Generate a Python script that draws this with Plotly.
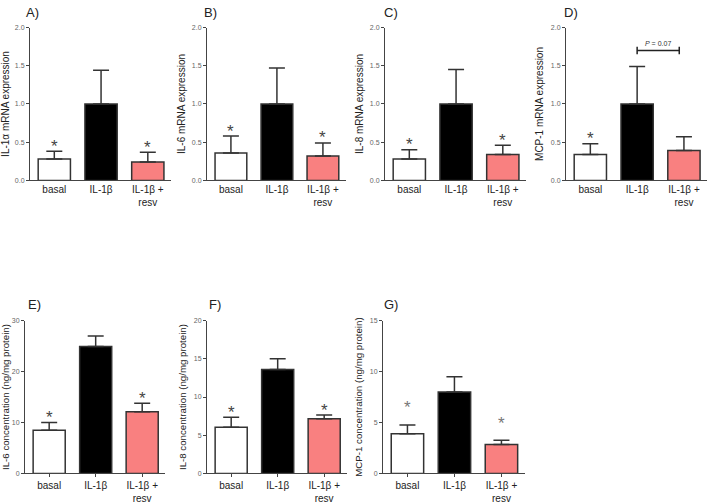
import plotly.graph_objects as go

categories = ["basal", "IL-1β", "IL-1β +<br>resv"]
panel_labels = ["A)", "B)", "C)", "D)", "E)", "F)", "G)"]
y_titles = ["IL-1α mRNA expression", "IL-6 mRNA expression", "IL-8 mRNA expression",
            "MCP-1 mRNA expression", "IL-6 concentration (ng/mg protein)",
            "IL-8 concentration (ng/mg protein)", "MCP-1 concentration (ng/mg protein)"]

a_mean = [0.28, 1.00, 0.24]; a_err = [0.10, 0.44, 0.13]; a_star = [0.38, None, 0.37]
b_mean = [0.36, 1.00, 0.32]; b_err = [0.22, 0.47, 0.17]; b_star = [0.58, None, 0.49]
c_mean = [0.28, 1.00, 0.34]; c_err = [0.12, 0.45, 0.12]; c_star = [0.40, None, 0.46]
d_mean = [0.34, 1.00, 0.39]; d_err = [0.14, 0.49, 0.18]; d_star = [0.48, None, None]
e_mean = [8.5, 24.9, 12.1]; e_err = [1.5, 2.1, 1.7]; e_star = [10.0, None, 13.8]
f_mean = [6.05, 13.6, 7.15]; f_err = [1.3, 1.4, 0.5]; f_star = [7.35, None, 7.65]
g_mean = [3.9, 8.0, 2.85]; g_err = [0.85, 1.5, 0.42]; g_star = [6.0, None, 4.45]

y_max = [2.0, 2.0, 2.0, 2.0, 30, 20, 15]
y_dtick = [0.5, 0.5, 0.5, 0.5, 10, 5, 5]
bar_colors = ["#ffffff", "#000000", "#f98080"]

W, H = 708, 504
# layout geometry (pixels): y-axis x position, category spacing, top/bottom of plot
axis_x = [30, 207, 385, 566, 25, 207, 383]
spacing = [46.75, 46.0, 46.75, 46.8, 46.5, 46.5, 47.0]
tops = [24, 24, 24, 24, 323, 323, 323]
bottoms = [180, 180, 180, 180, 479, 479, 479]
label_x = [25, 203, 383, 563, 27, 208, 383]
label_y = [9, 9, 9, 9, 307, 307, 307]
title_standoff = [5, 4, 4, 5, 5, 5, 5]

means = [a_mean, b_mean, c_mean, d_mean, e_mean, f_mean, g_mean]
errs = [a_err, b_err, c_err, d_err, e_err, f_err, g_err]
stars = [a_star, b_star, c_star, d_star, e_star, f_star, g_star]

fig = go.Figure()
layout = dict(width=W, height=H, margin=dict(l=0, r=0, t=0, b=0),
              paper_bgcolor="white", plot_bgcolor="white", showlegend=False,
              font=dict(family="Liberation Sans, Arial", color="#222"))
annotations = []
shapes = []
LO = -0.52
for i in range(7):
    n = "" if i == 0 else str(i + 1)
    x0 = axis_x[i]
    x1 = min(x0 + (2.5 - LO) * spacing[i], W)
    fig.add_trace(go.Bar(
        x=[0, 1, 2], y=means[i], width=0.69,
        marker=dict(color=bar_colors, line=dict(color="#333", width=1.5)),
        error_y=dict(type="data", symmetric=False, array=errs[i], arrayminus=[0, 0, 0],
                     color="#333", thickness=1.5, width=8),
        xaxis="x" + n, yaxis="y" + n, hoverinfo="skip"))
    layout["xaxis" + n] = dict(
        domain=[x0 / W, x1 / W], anchor="y" + n, range=[LO, 2.5],
        tickmode="array", tickvals=[0, 1, 2], ticktext=categories,
        showgrid=False, zeroline=False, showline=True, linecolor="#444", linewidth=1,
        ticks="outside" if i >= 4 else "", ticklen=3, tickcolor="#444",
        tickfont=dict(size=10, color="#222"), fixedrange=True)
    layout["yaxis" + n] = dict(
        domain=[(H - bottoms[i]) / H, (H - tops[i]) / H], anchor="x" + n,
        range=[0, y_max[i]], dtick=y_dtick[i], tick0=0,
        tickformat=".1f" if y_max[i] <= 2 else "d",
        showgrid=False, zeroline=False, showline=True, linecolor="#444", linewidth=1,
        ticks="outside", ticklen=3, tickcolor="#444",
        tickfont=dict(size=7, color="#666"), fixedrange=True,
        title=dict(text=y_titles[i], standoff=title_standoff[i],
                   font=dict(size=10 if i < 4 else 9.7, color="#222")))
    # panel label
    annotations.append(dict(
        x=label_x[i] / W, y=(H - label_y[i]) / H, xref="paper", yref="paper",
        text=panel_labels[i], showarrow=False, xanchor="left", yanchor="middle",
        borderpad=0, font=dict(size=13, color="#222")))
    # significance stars
    for j, sy in enumerate(stars[i]):
        if sy is not None:
            annotations.append(dict(
                x=j, y=sy, xref="x" + n, yref="y" + n, text="*", showarrow=False,
                yanchor="middle", yshift=5,
                font=dict(size=17, color="#444" if i < 6 else "#777")))

# P-value bracket in panel D
shapes.append(dict(type="line", xref="x4", yref="y4", x0=1, x1=1.9, y0=1.7, y1=1.7,
                   line=dict(color="#222", width=1.5)))
for xb in (1, 1.9):
    shapes.append(dict(type="line", xref="x4", yref="y4", x0=xb, x1=xb, y0=1.65, y1=1.75,
                       line=dict(color="#222", width=1.5)))
annotations.append(dict(x=1.45, y=1.72, xref="x4", yref="y4", text="<i>P</i> = 0.07",
                        showarrow=False, yanchor="bottom", font=dict(size=7, color="#333")))

layout["annotations"] = annotations
layout["shapes"] = shapes
fig.update_layout(**layout)
fig.write_html("out.html", config={"displayModeBar": False},
               post_script="document.body.style.margin='0';")
